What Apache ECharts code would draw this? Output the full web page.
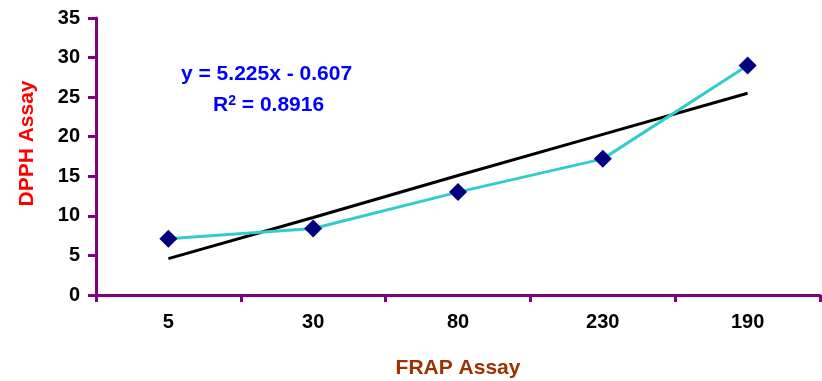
<!DOCTYPE html>
<html lang="en">
<head>
    <meta charset="UTF-8">
    <title>DPPH vs FRAP</title>
</head>
<body style="margin:0">
<div id='main' style="height: 381px;width: 822px"></div>
</body>
<script src="https://cdn.jsdelivr.net/npm/echarts@6.0.0/dist/echarts.min.js"></script>
<script>
    var categories = ['5', '30', '80', '230', '190'];
    var dpphValues = [7.1, 8.4, 13.0, 17.2, 29.0];
    // linear trendline y = 5.225x - 0.607 read at each category
    var trendValues = [4.6, 9.8, 15.1, 20.3, 25.5];
    var yTicks = [0, 5, 10, 15, 20, 25, 30, 35];

    var myChart = echarts.init(document.getElementById('main'));
    var axisPurple = '#800080';
    var font = 'Liberation Sans';

    var option = {
        animation: false,
        grid: {left: 96, right: 2, top: 18, bottom: 86, outerBoundsMode: 'none', containLabel: false},
        xAxis: {
            type: 'category',
            data: categories,
            boundaryGap: true,
            name: 'FRAP Assay',
            nameLocation: 'middle',
            nameGap: 63,
            nameTextStyle: {color: '#993300', fontSize: 21, fontWeight: 'bold', fontFamily: font},
            axisLine: {lineStyle: {color: axisPurple, width: 3}},
            axisTick: {show: true, alignWithLabel: false, length: 7, lineStyle: {color: axisPurple, width: 3}},
            axisLabel: {color: '#000', fontSize: 20, fontWeight: 'bold', fontFamily: font, margin: 17}
        },
        yAxis: {
            type: 'value',
            min: yTicks[0],
            max: yTicks[yTicks.length - 1],
            interval: 5,
            name: 'DPPH Assay',
            nameLocation: 'middle',
            nameGap: 58,
            nameRotate: 90,
            nameTextStyle: {color: '#ff0000', fontSize: 21, fontWeight: 'bold', fontFamily: font, padding: [0, 0, 0, 26]},
            axisLine: {show: true, lineStyle: {color: axisPurple, width: 3}},
            axisTick: {show: true, length: 8, lineStyle: {color: axisPurple, width: 3}},
            splitLine: {show: false},
            axisLabel: {color: '#000', fontSize: 20, fontWeight: 'bold', fontFamily: font, margin: 16}
        },
        series: [{
            type: 'line',
            data: dpphValues,
            symbol: 'diamond',
            symbolSize: 18,
            itemStyle: {color: '#000080'},
            lineStyle: {color: '#33cccc', width: 3},
            z: 3
        }, {
            type: 'line',
            data: trendValues,
            symbol: 'none',
            lineStyle: {color: '#000', width: 3},
            z: 2
        }],
        graphic: [{
            type: 'text',
            left: 181,
            top: 64,
            style: {text: 'y = 5.225x - 0.607', fill: '#0000ff', font: 'bold 21px "Liberation Sans"'}
        }, {
            type: 'text',
            left: 213,
            top: 94,
            style: {
                text: 'R{sup|2} = 0.8916',
                fill: '#0000ff',
                font: 'bold 21px "Liberation Sans"',
                rich: {sup: {fontSize: 14, fontWeight: 'bold', fill: '#0000ff', verticalAlign: 'top', padding: [0, 0, 8, 0]}}
            }
        }]
    };
    myChart.setOption(option);
</script>
</html>
